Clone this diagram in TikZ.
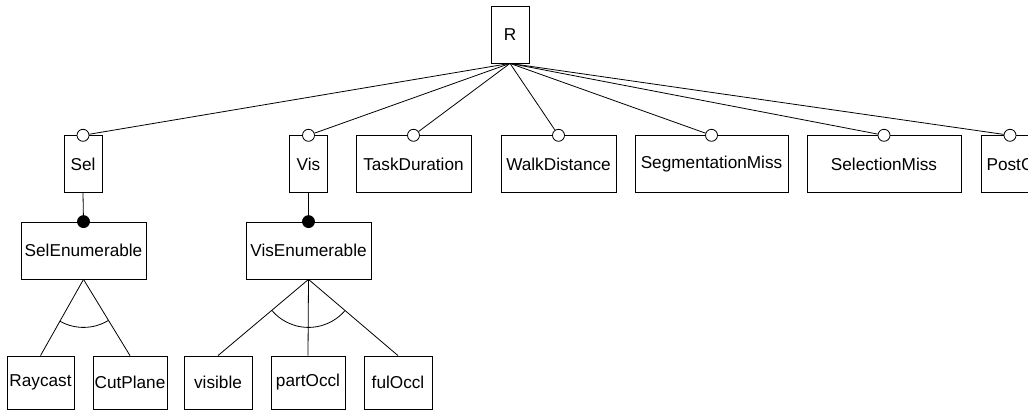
\documentclass[tikz,border=0pt]{standalone}
\usepackage{fontspec}
\setmainfont{Liberation Sans}
\usetikzlibrary{calc}

\begin{document}
\begin{tikzpicture}[x=1pt, y=1pt, line width=0.8pt,
    every node/.style={font=\fontsize{17.2}{20}\selectfont},
    feat/.style={draw, rectangle, inner sep=0pt, minimum height=57pt},
    leaf/.style={draw, rectangle, inner sep=0pt, minimum height=53pt},
    opt/.style={draw, circle, fill=white, inner sep=0pt, minimum size=12pt},
    mand/.style={draw, circle, fill=black, inner sep=0pt, minimum size=12pt}]

\useasboundingbox (0,0) rectangle (1028,-410);

% --- ROOT ---
\node[feat, minimum width=38pt] (R) at (510,-34.5) {R};

% --- FIRST LEVEL ---
\node[feat, minimum width=38pt]  (Sel)  at (83,-164.2)    {Sel};
\node[feat, minimum width=38pt]  (Vis)  at (308.5,-164.2) {Vis};
\node[feat, minimum width=115pt] (Task) at (413.5,-164.2) {TaskDuration};
\node[feat, minimum width=115pt] (Walk) at (558.5,-164.2) {WalkDistance};
\node[feat, minimum width=153pt] (Seg)  at (711.5,-164.2) {SegmentationMiss};
\node[feat, minimum width=154pt] (SelM) at (884,-164.2)   {SelectionMiss};
\node[feat, minimum width=58pt]  (Post) at (1010,-164.2)  {PostC};

% optional markers and edges from the root
\foreach \f in {Sel, Vis, Task, Walk, Seg, SelM, Post} {
    \node[opt] (\f o) at (\f.north) {};
    \draw (R.south) -- (\f o);
}

% --- SECOND LEVEL ---
\node[feat, minimum width=125pt] (SelEnum) at (83.5,-250.5)  {SelEnumerable};
\node[feat, minimum width=125pt] (VisEnum) at (308.5,-250.5) {VisEnumerable};

\draw (Sel.south) -- (SelEnum.north);
\draw (Vis.south) -- (VisEnum.north);
\node[mand] (SelEnumm) at (SelEnum.north) {};
\node[mand] (VisEnumm) at (VisEnum.north) {};

% --- LEAVES ---
\node[leaf, minimum width=67pt] (Ray)  at (40.5,-382.5) {Raycast};
\node[leaf, minimum width=74pt] (Cut)  at (130,-382.5)  {CutPlane};
\node[leaf, minimum width=68pt] (VisI) at (218,-382.5)  {visible};
\node[leaf, minimum width=74pt] (Part) at (308,-382.5)  {partOccl};
\node[leaf, minimum width=68pt] (Ful)  at (398,-382.5)  {fulOccl};

% alternative groups
\draw (SelEnum.south) -- (Ray.north);
\draw (SelEnum.south) -- (Cut.north);
\draw ($(SelEnum.south)+(240.8:48)$) arc[start angle=240.8, end angle=301.1, radius=48];

\draw (VisEnum.south) -- (VisI.north);
\draw (VisEnum.south) -- (Part.north);
\draw (VisEnum.south) -- (Ful.north);
\draw ($(VisEnum.south)+(220.4:48)$) arc[start angle=220.4, end angle=319.3, radius=48];

\end{tikzpicture}
\end{document}
